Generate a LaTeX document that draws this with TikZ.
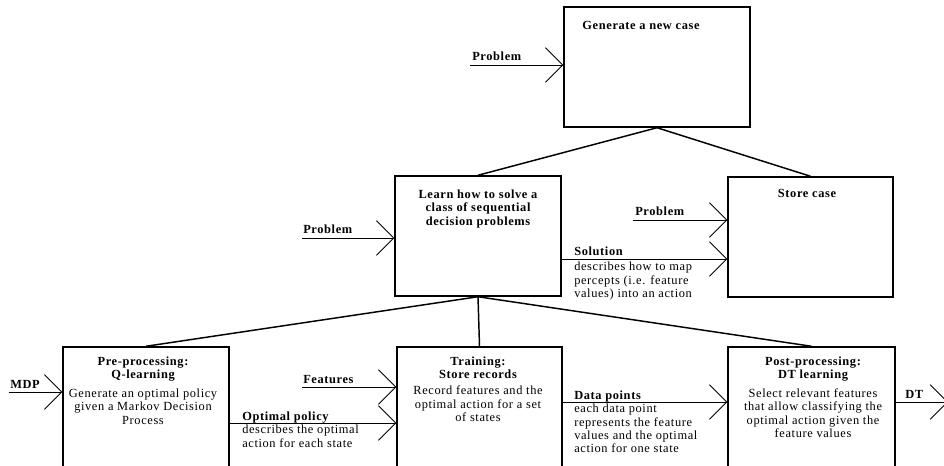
\documentclass[tikz,border=0pt]{standalone}
\usepackage{fontspec}
\setmainfont{Liberation Serif}[LetterSpace=5]
\usepackage{tikz}
\usetikzlibrary{arrows.meta}
\usetikzlibrary{calc}
\usetikzlibrary{positioning}

\begin{document}
\begin{tikzpicture}[x=0.75pt,y=-0.75pt,>={Straight Barb[length=13pt,width=26pt]},
  every node/.style={font=\fontsize{9.3}{10}\selectfont}]
	\tikzstyle{blk}=[draw, line width=1.1pt, inner sep=0pt, minimum height=90pt]
	\tikzstyle{ttl}=[font=\fontsize{9.3}{9.8}\selectfont\bfseries, align=center, inner sep=0pt]
	\tikzstyle{txt}=[align=center, inner sep=0pt]
	\tikzstyle{lbl}=[font=\fontsize{9.3}{10}\selectfont\bfseries, anchor=base west, inner sep=0pt]
	\tikzstyle{dsc}=[align=left, anchor=north west, inner sep=0pt]
	\tikzstyle{flow}=[->, line width=0.6pt]
	\tikzstyle{tree}=[-, line width=1.1pt]
	\clip (0,0) rectangle (944,466);

	% boxes
	\node[blk, minimum width=139.5pt] (G) at (657,67) {};
	\node[blk, minimum width=124.5pt] (L) at (478,236) {};
	\node[blk, minimum width=123.75pt] (S) at (810.5,237) {};
	\node[blk, minimum width=124.5pt, minimum height=96pt] (P) at (146,411) {};
	\node[blk, minimum width=123.75pt, minimum height=96pt] (T) at (479.5,411) {};
	\node[blk, minimum width=125.25pt, minimum height=96pt] (D) at (811.5,411) {};

	% titles
	\node[ttl] (gt) at (641,25) {Generate a new case};
	\node[ttl, anchor=north] (lt) at (478,190) {Learn how to solve a\\class of sequential\\decision problems};
	\node[ttl] (st) at (807,193) {Store case};
	\node[ttl, anchor=north] (pt) at (143,357) {Pre-processing:\\Q-learning};
	\node[txt, below=5pt of pt] (pb) {Generate an optimal policy\\given a Markov Decision\\Process};
	\node[ttl, anchor=north] (tt) at (478,357) {Training:\\Store records};
	\node[txt, below=5pt of tt] (tb) {Record features and the\\optimal action for a set\\of states};
	\node[ttl, anchor=north] (dt) at (813,357) {Post-processing:\\DT learning};
	\node[txt, below=5pt of dt] (db) {Select relevant features\\that allow classifying the\\optimal action given the\\feature values};

	% tree
	\path[tree]
		(G.south) edge (L.north)
		(G.south) edge (S.north)
		(L.south) edge (P.north)
		(L.south) edge (T.north)
		(L.south) edge (D.north);

	% inputs and outputs
	\coordinate (pg) at (470,65);
	\coordinate (pl) at (302,238);
	\coordinate (ps) at (633,220);
	\coordinate (so) at (561,259);
	\coordinate (pm) at (9,392);
	\coordinate (pf) at (302,387);
	\coordinate (po) at (229,423);
	\coordinate (pd) at (562,402);
	\coordinate (out) at (948,402);

	\draw[flow] (pg) -- (G.west |- pg);
	\draw[flow] (pl) -- (L.west |- pl);
	\draw[flow] (ps) -- (S.west |- ps);
	\draw[flow] (L.east |- so) -- (S.west |- so);
	\draw[flow] (pm) -- (P.west |- pm);
	\draw[flow] (pf) -- (T.west |- pf);
	\draw[flow] (P.east |- po) -- (T.west |- po);
	\draw[flow] (T.east |- pd) -- (D.west |- pd);
	\draw[flow] (D.east |- pd) -- (out);

	% labels
	\node[lbl] (l1) at (472,61) {Problem};
	\node[lbl] (l2) at (303,234) {Problem};
	\node[lbl] (l3) at (635,216) {Problem};
	\node[lbl] (l4) at (574,256) {Solution};
	\node[dsc] (d4) at (574,262) {describes how to map\\percepts (i.e. feature\\values) into an action};
	\node[lbl] (l5) at (10,388) {MDP};
	\node[lbl] (l6) at (303,383) {Features};
	\node[lbl] (l7) at (242,420) {Optimal policy};
	\node[dsc] (d7) at (242,425) {describes the optimal\\action for each state};
	\node[lbl] (l8) at (574,399) {Data points};
	\node[dsc] (d8) at (574,404) {each data point\\represents the feature\\values and the optimal\\action for one state};
	\node[lbl] (l9) at (905,398) {DT};
\end{tikzpicture}
\end{document}
